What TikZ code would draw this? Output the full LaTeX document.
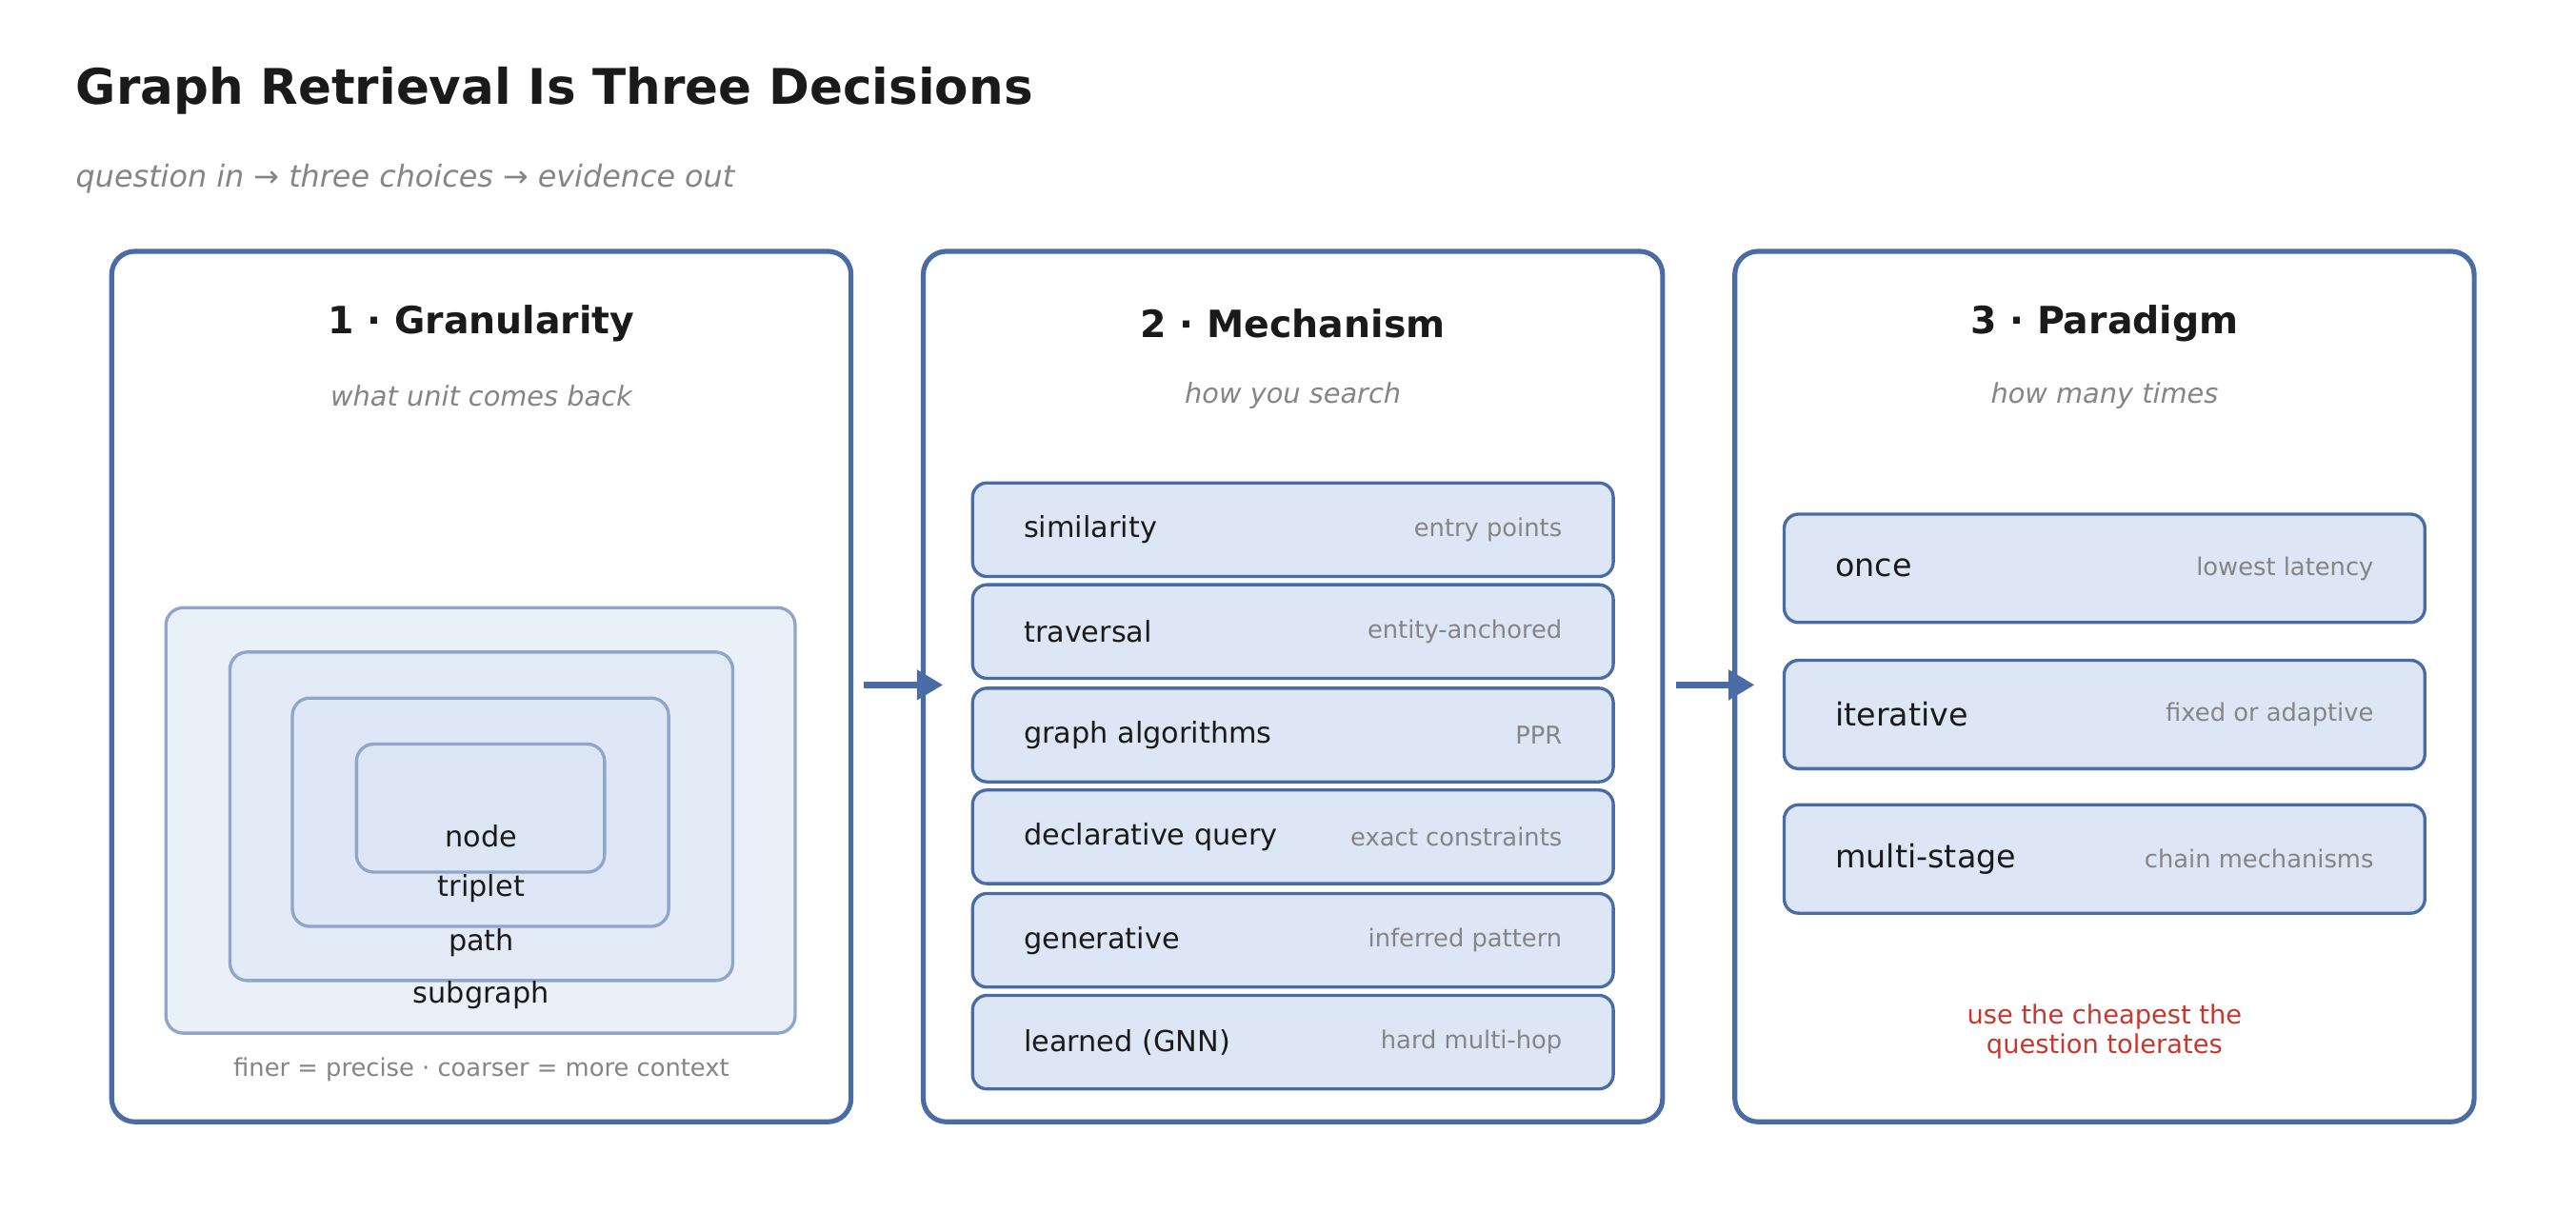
\documentclass[tikz,border=0pt]{standalone}
\usepackage{fontspec}
\setmainfont{DejaVu Sans}
\usetikzlibrary{arrows.meta}
\definecolor{pb}{HTML}{4A6CA6}
\definecolor{bfill}{HTML}{DCE6F4}
\definecolor{gtxt}{HTML}{858585}
\definecolor{dk}{HTML}{1A1A1A}
\definecolor{redt}{HTML}{C8372D}
\definecolor{n1}{HTML}{EAF0F8}
\definecolor{nb}{HTML}{8FA6CB}
\begin{document}
\begin{tikzpicture}[x=0.02cm,y=-0.02cm,
 panel/.style={draw=pb,line width=1.7pt,rounded corners=8pt,fill=white},
 opt/.style={draw=pb,line width=1.1pt,rounded corners=5pt,fill=bfill},
 nest/.style={draw=nb,line width=1.1pt,rounded corners=6pt},
 lab/.style={anchor=west,text=dk,font=\fontsize{10}{12}\selectfont},
 lab2/.style={anchor=west,text=dk,font=\fontsize{11}{13}\selectfont},
 note/.style={anchor=east,text=gtxt,font=\fontsize{8.5}{10}\selectfont},
 ptitle/.style={text=dk,font=\bfseries\fontsize{13}{15}\selectfont},
 psub/.style={text=gtxt,font=\itshape\fontsize{9.5}{11}\selectfont},
 arr/.style={draw=pb,line width=2.2pt,-{Triangle[length=9pt,width=10pt]}}]
\useasboundingbox (0,0) rectangle (1568,750);
\node[anchor=west,text=dk,font=\bfseries\fontsize{17}{20}\selectfont] (title) at (40,55) {Graph Retrieval Is Three Decisions};
\node[anchor=west,psub,font=\itshape\fontsize{10.5}{12}\selectfont] (sub) at (40,109) {question in → three choices → evidence out};
% panels
\draw[panel] (68,153) rectangle (518,683);
\draw[panel] (562,153) rectangle (1012,683);
\draw[panel] (1056,153) rectangle (1506,683);
\coordinate (p1r) at (526,417); \coordinate (p2l) at (574,417);
\coordinate (p2r) at (1020,417); \coordinate (p3l) at (1068,417);
\draw[arr] (p1r) -- (p2l);
\draw[arr] (p2r) -- (p3l);
\node[ptitle] (t1) at (293,197) {1 · Granularity};
\node[psub] (s1) at (293,241) {what unit comes back};
\node[ptitle] (t2) at (787,197) {2 · Mechanism};
\node[psub] (s2) at (787,241) {how you search};
\node[ptitle] (t3) at (1281,197) {3 · Paradigm};
\node[psub] (s3) at (1281,241) {how many times};
% nested
\draw[nest,fill=n1] (101,370) rectangle (484,629);
\draw[nest,fill=bfill!60!n1] (140,397) rectangle (446,597);
\draw[nest,fill=bfill!85!n1] (178,425) rectangle (407,564);
\draw[nest,fill=bfill] (217,453) rectangle (368,531);
\node[text=dk,font=\fontsize{10}{12}\selectfont] (g1) at (293,509) {node};
\node[text=dk,font=\fontsize{10}{12}\selectfont] (g2) at (293,541) {triplet};
\node[text=dk,font=\fontsize{10}{12}\selectfont] (g3) at (293,574) {path};
\node[text=dk,font=\fontsize{10}{12}\selectfont] (g4) at (293,606) {subgraph};
\node[text=gtxt,font=\fontsize{8.5}{10}\selectfont] (gf) at (293,651) {finer = precise · coarser = more context};
% mechanism
\foreach \y/\a/\b in {294/similarity/entry points,356/traversal/entity-anchored,419/graph algorithms/PPR / communities,481/declarative query/exact constraints,544/generative/inferred pattern,606/learned (GNN)/hard multi-hop}{
 \draw[opt] (592,\y) rectangle (982,\y+57);
 \node[lab] at (617,\y+28.5) {\a};
 \node[note] at (957,\y+28.5) {\b};
}
% paradigm
\foreach \y/\a/\b in {313/once/lowest latency,402/iterative/fixed or adaptive,490/multi-stage/chain mechanisms}{
 \draw[opt] (1086,\y) rectangle (1476,\y+66);
 \node[lab2] at (1111,\y+33) {\a};
 \node[note] at (1451,\y+33) {\b};
}
\node[text=redt,align=center,font=\fontsize{9}{10}\selectfont] (red) at (1281,628) {use the cheapest the\\question tolerates};
\end{tikzpicture}
\end{document}
